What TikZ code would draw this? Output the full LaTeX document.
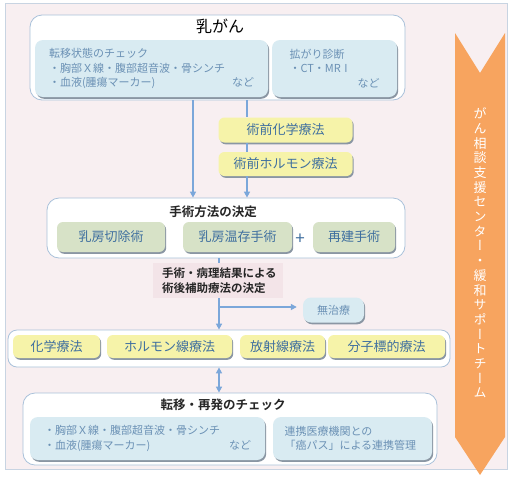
\documentclass[tikz,border=0pt]{standalone}
\usepackage{fontspec}
\usetikzlibrary{arrows.meta,positioning,calc,shadows}
\newfontfamily\jp{Noto Sans CJK JP}[BoldFont={Noto Sans CJK JP Bold}]
\newfontfamily\jpvert{Noto Sans CJK JP}[RawFeature=+vert]
\definecolor{bgpink}{HTML}{F8EFF1}
\definecolor{bgline}{HTML}{C8D4E2}
\definecolor{boxline}{HTML}{A9C1DA}
\definecolor{infofill}{HTML}{D9EBF2}
\definecolor{infotext}{HTML}{6B91B5}
\definecolor{labelblue}{HTML}{3F6F9F}
\definecolor{prefill}{HTML}{F6F3A9}
\definecolor{opfill}{HTML}{D7E2C7}
\definecolor{notefill}{HTML}{F3E4E8}
\definecolor{flowblue}{HTML}{7BA7DA}
\definecolor{shadegrey}{HTML}{8A96A3}
\definecolor{careorange}{HTML}{F7A45F}

\tikzset{
  outerbox/.style={draw=boxline,fill=white,rounded corners=12pt,line width=0.8pt},
  infobox/.style={fill=infofill,rounded corners=8pt,text=infotext,align=left,
    font=\jp\fontsize{11}{14.5}\selectfont,
    drop shadow={shadow xshift=1.2pt,shadow yshift=-1.8pt,fill=shadegrey,opacity=1}},
  tagbox/.style={rounded corners=6pt,text=labelblue,font=\jp\fontsize{13}{15}\selectfont,
    inner sep=0pt,drop shadow={shadow xshift=1.2pt,shadow yshift=-1.8pt,fill=shadegrey,opacity=1}},
  prebox/.style={tagbox,fill=prefill},
  opbox/.style={tagbox,fill=opfill},
  headtext/.style={font=\jp\bfseries\fontsize{12.5}{15}\selectfont,text=black!85,inner sep=0pt},
  flow/.style={draw=flowblue,line width=1.6pt,-{Triangle[length=6pt,width=6pt]}},
  link/.style={draw=flowblue,line width=1.6pt},
}

\begin{document}
\begin{tikzpicture}[x=1pt,y=-1pt]
  \useasboundingbox (0,0) rectangle (513,480);
  \fill[bgpink,draw=bgline,line width=0.8pt] (5,3) rectangle (507,469);

  % 乳がん
  \node[outerbox,minimum width=375pt,minimum height=85pt] (cancer) at (217.5,57.5) {};
  \node[font=\jp\fontsize{16}{18}\selectfont,inner sep=0pt] (cancertitle) at (220,26) {乳がん};
  \node[infobox,text width=205pt,inner xsep=14pt,minimum height=57pt] (metacheck) at (151.5,68.5)
    {転移状態のチェック\\・胸部Ｘ線・腹部超音波・骨シンチ\\・血液(腫瘍マーカー)\hfill など};
  \node[infobox,text width=90pt,inner xsep=17.5pt,minimum height=57pt] (spread) at (334.5,68.5)
    {拡がり診断\\・CT・MR I\\\hfill など};

  % 術前療法
  \node[prebox,minimum width=134pt,minimum height=25pt] (prechemo) at (285.5,130) {術前化学療法};
  \node[prebox,minimum width=134pt,minimum height=24pt] (prehormone) at (285.5,164) {術前ホルモン療法};

  % 手術方法の決定
  \node[outerbox,minimum width=358pt,minimum height=60pt] (surgery) at (226,228) {};
  \node[headtext] (surgerytitle) at (213,212) {手術方法の決定};
  \node[opbox,minimum width=108pt,minimum height=30pt] (mastectomy) at (111,237) {乳房切除術};
  \node[opbox,minimum width=109pt,minimum height=30pt] (conserve) at (237.5,237) {乳房温存手術};
  \node[font=\jp\fontsize{17}{18}\selectfont,text=labelblue,inner sep=0pt] (plus) at (300,239) {+};
  \node[opbox,minimum width=82pt,minimum height=30pt] (rebuild) at (354,237) {再建手術};

  % 術後療法
  \node[outerbox,minimum width=442pt,minimum height=37pt,rounded corners=9pt] (therapy) at (229,348.5) {};
  \node[prebox,minimum width=87pt,minimum height=23pt] (chemo) at (56.5,346.5) {化学療法};
  \node[prebox,minimum width=125pt,minimum height=23pt] (hormone) at (169.5,346.5) {ホルモン線療法};
  \node[prebox,minimum width=85pt,minimum height=23pt] (radiation) at (282.5,346.5) {放射線療法};
  \node[prebox,minimum width=117pt,minimum height=23pt] (targeted) at (386.5,346.5) {分子標的療法};
  \node[infobox,font=\jp\fontsize{11}{13}\selectfont,minimum width=61pt,minimum height=25pt,inner sep=0pt] (notreat) at (333.5,310) {無治療};

  % 転移・再発のチェック
  \node[outerbox,minimum width=414pt,minimum height=72pt] (followup) at (230,429) {};
  \node[headtext] (followtitle) at (223,405) {転移・再発のチェック};
  \node[infobox,text width=207pt,inner xsep=14pt,minimum height=43pt] (recheck) at (147.5,438.5)
    {・胸部Ｘ線・腹部超音波・骨シンチ\\・血液(腫瘍マーカー)\hfill など};
  \node[infobox,text width=136pt,inner xsep=11.5pt,minimum height=43pt] (network) at (352.5,438.5)
    {連携医療機関との\\「癌パス」による連携管理};

  % connectors
  \coordinate (lx) at (193,0);
  \coordinate (rx) at (247,0);
  \coordinate (mx) at (219,0);
  \draw[flow] (cancer.south -| lx) -- (surgery.north -| lx);
  \draw[link] (cancer.south -| rx) -- (prechemo.north -| rx);
  \draw[link] (prechemo.south -| rx) -- (prehormone.north -| rx);
  \draw[flow] (prehormone.south -| rx) -- (surgery.north -| rx);
  \draw[flow] (surgery.south -| mx) -- (therapy.north -| mx);
  \draw[flow] (mx |- 0,307) coordinate (branch) -- ([xshift=-6pt]notreat.west |- branch);
  \draw[draw=flowblue,line width=1.6pt,{Triangle[length=6pt,width=6pt]}-{Triangle[length=6pt,width=6pt]}]
    (therapy.south -| mx) -- (followup.north -| mx);

  \node[fill=notefill,text width=112pt,inner xsep=9pt,inner ysep=5pt,align=left,
    font=\jp\bfseries\fontsize{11.5}{15}\selectfont,text=black!85] (decide) at (218,280.5)
    {手術・病理結果による\\術後補助療法の決定};

  % がん相談支援センター・緩和サポートチーム
  \fill[careorange] (455,33) -- (480,73) -- (505,33) -- (505,437) -- (480,475) -- (455,437) -- cycle;
  \node[font=\jpvert\fontsize{13}{14.7}\selectfont,text=white,align=center,inner sep=0pt] (support) at (480,253)
    {が\\ん\\相\\談\\支\\援\\セ\\ン\\タ\\ー\\・\\緩\\和\\サ\\ポ\\ー\\ト\\チ\\ー\\ム};
\end{tikzpicture}
\end{document}
